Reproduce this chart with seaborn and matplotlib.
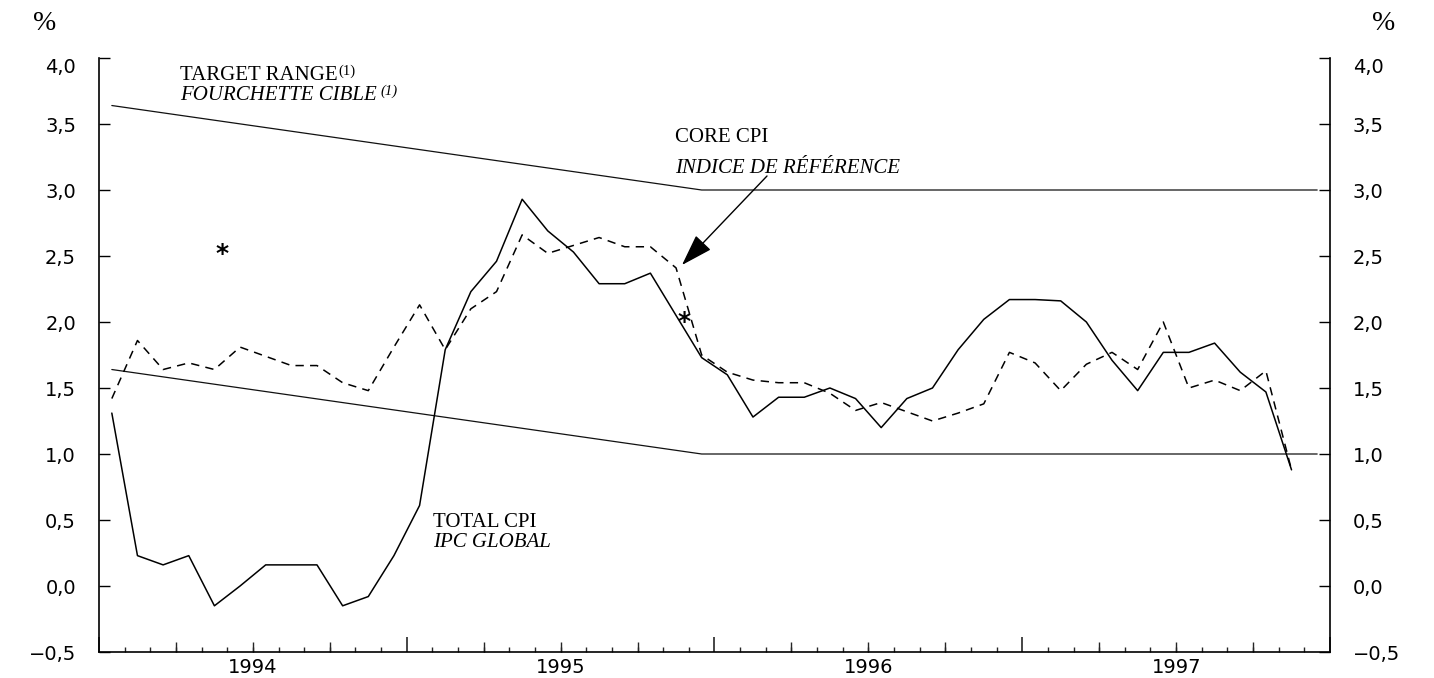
import numpy as np
import pandas as pd
import matplotlib
matplotlib.use("Agg")
import matplotlib.pyplot as plt
import seaborn as sns

# ---------------- data (monthly, Jan 1994 - Nov 1997) ----------------
months = pd.period_range("1994-01", "1997-11", freq="M").astype(str).tolist()
total_cpi = [1.31, 0.23, 0.16, 0.23, -0.15, 0.00, 0.16, 0.16, 0.16, -0.15, -0.08, 0.23,
             0.61, 1.79, 2.23, 2.46, 2.93, 2.69, 2.53, 2.29, 2.29, 2.37, 2.05, 1.73,
             1.60, 1.28, 1.43, 1.43, 1.50, 1.42, 1.20, 1.42, 1.50, 1.79, 2.02, 2.17,
             2.17, 2.16, 2.00, 1.71, 1.48, 1.77, 1.77, 1.84, 1.62, 1.47, 0.88]
core_cpi = [1.42, 1.86, 1.64, 1.69, 1.64, 1.81, 1.74, 1.67, 1.67, 1.54, 1.48, 1.81,
            2.13, 1.79, 2.10, 2.23, 2.66, 2.52, 2.58, 2.64, 2.57, 2.57, 2.41, 1.75,
            1.62, 1.56, 1.54, 1.54, 1.46, 1.33, 1.39, 1.32, 1.25, 1.31, 1.38, 1.77,
            1.69, 1.48, 1.68, 1.77, 1.64, 2.00, 1.50, 1.56, 1.48, 1.63, 0.88]
band_months = ["1994-01", "1995-12", "1997-12"]
band_upper = [3.64, 3.0, 3.0]
band_lower = [1.64, 1.0, 1.0]
years = ["1994", "1995", "1996", "1997"]
y_ticks = [-0.5, 0.0, 0.5, 1.0, 1.5, 2.0, 2.5, 3.0, 3.5, 4.0]

# month index helper
all_months = pd.period_range("1994-01", "1997-12", freq="M").astype(str).tolist()
def midx(m):
    return all_months.index(m)

df = pd.DataFrame({"m": [midx(m) for m in months], "total": total_cpi, "core": core_cpi})
band = pd.DataFrame({"m": [midx(m) for m in band_months], "upper": band_upper, "lower": band_lower})

# ---------------- figure ----------------
sns.set_theme(style="white")
plt.rcParams["font.family"] = ["DejaVu Sans"]
plt.rcParams["text.color"] = "black"
plt.rcParams["lines.scale_dashes"] = False

W, H = 1434, 678
fig = plt.figure(figsize=(W / 100, H / 100), dpi=100)
fig.patch.set_facecolor("white")
ax = fig.add_axes([99 / W, 1 - 652 / H, (1330 - 99) / W, (652 - 58) / H])
ax.set_facecolor("white")

sns.lineplot(data=band, x="m", y="upper", color="#111111", lw=0.9, ax=ax)
sns.lineplot(data=band, x="m", y="lower", color="#111111", lw=0.9, ax=ax)
sns.lineplot(data=df, x="m", y="total", color="black", lw=1.1, ax=ax)
sns.lineplot(data=df, x="m", y="core", color="black", lw=1.1, ax=ax,
             linestyle=(0, (6, 4.5)))

n = len(all_months)
ax.set_xlim(-0.5, n - 0.5)
ax.set_ylim(-0.5, 4.0)
ax.set_xlabel("")
ax.set_ylabel("")

for s in ["left", "right", "bottom"]:
    ax.spines[s].set_visible(True)
    ax.spines[s].set_color("black")
    ax.spines[s].set_linewidth(1.2)
ax.spines["top"].set_visible(False)

# y axis: both sides, inward ticks, comma decimals
ax.set_yticks(y_ticks)
ax.set_yticklabels([f"{v:.1f}".replace(".", ",").replace("-", "\u2212") for v in y_ticks])
ax.tick_params(axis="y", which="major", direction="in", length=8, width=1,
               left=True, right=True, labelleft=True, labelright=True,
               pad=16.5, labelsize=14, colors="black")
ticks = ax.yaxis.get_major_ticks()
ticks[-1].label1.set_verticalalignment("top")
ticks[-1].label2.set_verticalalignment("top")

# x axis: year boundaries (long), monthly (short), quarters (medium), labels mid-year
year_edges = [i * 12 - 0.5 for i in range(len(years) + 1)]
ax.set_xticks(year_edges)
ax.set_xticklabels([])
ax.set_xticks(np.arange(-0.5, n, 1.0), minor=True)
ax.tick_params(axis="x", which="major", direction="in", length=11, width=1.2, bottom=True)
ax.tick_params(axis="x", which="minor", direction="in", length=3.5, width=1, bottom=True)

secq = ax.secondary_xaxis("bottom")
secq.set_xticks([q for q in np.arange(-0.5, n, 3.0) if (q + 0.5) % 12 != 0])
secq.set_xticklabels([])
secq.tick_params(direction="in", length=7, width=1)
secq.spines["bottom"].set_visible(False)

secl = ax.secondary_xaxis("bottom")
secl.set_xticks([i * 12 + 5.5 for i in range(len(years))])
secl.set_xticklabels(years)
secl.tick_params(length=0, pad=4, labelsize=14, colors="black")
secl.spines["bottom"].set_visible(False)

# ---------------- annotations ----------------
def fp(x, y):
    return (x / W, 1 - y / H)

serif = "Liberation Serif"
fs = 15
fig.text(*fp(33, 30), "%", fontsize=20, family=serif, va="baseline", ha="left")
fig.text(*fp(1372, 30), "%", fontsize=20, family=serif, va="baseline", ha="left")

t1 = fig.text(*fp(180, 80), "TARGET RANGE", fontsize=fs, family=serif, va="baseline", ha="left")
ax.annotate("(1)", xy=(1, 1), xycoords=t1, xytext=(0.5, 1), textcoords="offset points",
            fontsize=10.5, family=serif, va="top", ha="left")
t2 = fig.text(*fp(180, 100), "FOURCHETTE CIBLE", fontsize=fs, family=serif,
              style="italic", va="baseline", ha="left")
ax.annotate("(1)", xy=(1, 1), xycoords=t2, xytext=(3, 1), textcoords="offset points",
            fontsize=10.5, family=serif, style="italic", va="top", ha="left")

fig.text(*fp(675, 142), "CORE CPI", fontsize=fs, family=serif, va="baseline", ha="left")
fig.text(*fp(675, 173), "INDICE DE RÉFÉRENCE", fontsize=fs, family=serif,
         style="italic", va="baseline", ha="left")
fig.text(*fp(433, 527), "TOTAL CPI", fontsize=fs, family=serif, va="baseline", ha="left")
fig.text(*fp(433, 547), "IPC GLOBAL", fontsize=fs, family=serif,
         style="italic", va="baseline", ha="left")

fig.text(*fp(222, 254), "*", fontsize=18, fontweight="bold", va="center", ha="center")
fig.text(*fp(684, 322), "*", fontsize=18, fontweight="bold", va="center", ha="center")

ax.annotate("", xy=fp(682, 265), xycoords="figure fraction",
            xytext=fp(767, 176), textcoords="figure fraction",
            arrowprops=dict(arrowstyle="-|>,head_length=2.0,head_width=0.65",
                            color="black", lw=1.0, shrinkA=0, shrinkB=0,
                            mutation_scale=10))

fig.savefig("out.png", dpi=100, facecolor="white")
